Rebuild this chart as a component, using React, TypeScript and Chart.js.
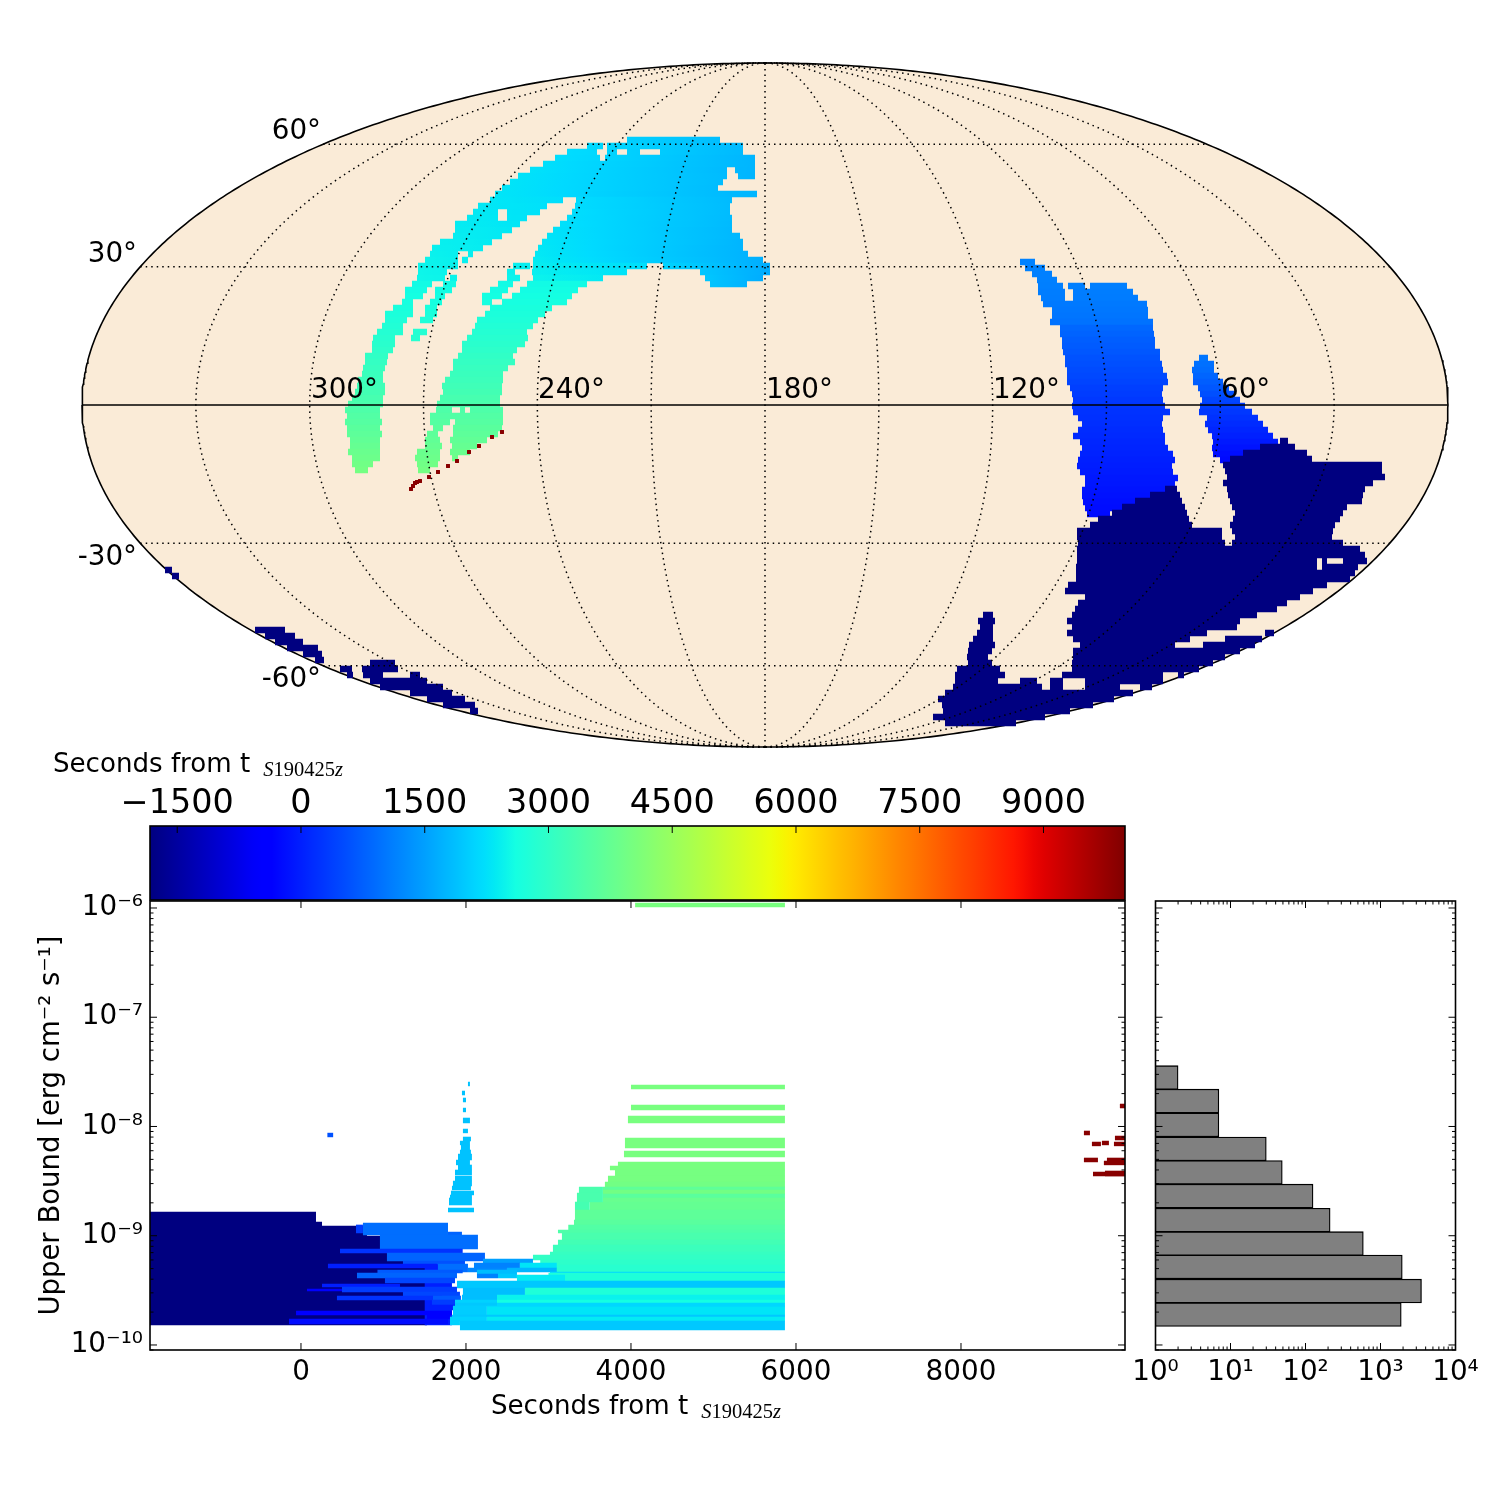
import React, { useEffect, useRef } from "react";
import { Chart, registerables } from "chart.js";
Chart.register(...registerables);

/* ---------- colour scale limits (seconds from trigger) ---------- */
const T_MIN = -1830;
const T_MAX = 9988;
const colorbarTicks = [-1500, 0, 1500, 3000, 4500, 6000, 7500, 9000];
const timeTicks = [0, 2000, 4000, 6000, 8000];
const boundDecades = [-6, -7, -8, -9, -10];
const histCountDecades = [0, 1, 2, 3, 4];

/* ---------- histogram ---------- */
const histBinEdges = [1.49e-10, 2.42e-10, 4.02e-10, 6.67e-10, 1.08e-9, 1.79e-9, 2.98e-9, 4.83e-9, 8.02e-9, 1.33e-8, 2.2e-8, 3.58e-8];
const histCounts = [1890, 3520, 1950, 590, 213, 126, 49, 30, 7, 7, 2];

/* ---------- lower panel: [log10 bound a, log10 bound b, t start, t end, colour time] ---------- */
const navyBlock = [
  [-8.783, -8.874, -1830, 182, -1830], [-8.874, -8.911, -1830, 255, -1830], [-8.911, -9.002, -1830, 800, -1830],
  [-9.002, -9.085, -1830, 1000, -1830], [-9.085, -9.13, -1830, 1000, -1830], [-9.13, -9.203, -1830, 1060, -1830],
  [-9.203, -9.24, -1830, 1357, -1830], [-9.24, -9.817, -1830, 1527, -1830],
];
const blueStrips = [
  [-9.24, -9.817, 1500, 1830, 0],
  [-8.883, -8.993, 751, 1782, 925], [-8.901, -8.975, 667, 751, 345], [-8.966, -9.002, 1782, 1951, 810],
  [-8.993, -9.121, 957, 2145, 925], [-9.121, -9.158, 473, 1960, 230], [-9.158, -9.231, 1042, 2230, 810],
  [-9.231, -9.259, 1236, 1988, 580], [-9.259, -9.295, 327, 1648, 0], [-9.259, -9.332, 1660, 2024, 925],
  [-9.313, -9.341, 927, 1960, 695], [-9.341, -9.387, 679, 1891, 810], [-9.387, -9.432, 1018, 1867, 460],
  [-9.441, -9.469, 255, 1200, 0], [-9.469, -9.515, 497, 1891, 345], [-9.487, -9.505, 73, 497, -500],
  [-9.515, -9.551, 1236, 1927, 460], [-9.551, -9.588, 436, 1709, 230], [-9.551, -9.588, 1600, 1939, 695],
  [-9.588, -9.634, 1588, 1867, 345], [-9.634, -9.68, 1563, 1867, 0], [-9.689, -9.725, -60, 1830, -350],
  [-9.725, -9.762, 1527, 1806, -350], [-9.762, -9.808, -145, 1782, -230], [-8.06, -8.096, 320, 390, 580],
];
const spireStrips = [
  [-7.593, -7.629, 2024, 2048], [-7.675, -7.712, 1951, 1988], [-7.739, -7.776, 1963, 2000], [-7.831, -7.867, 1963, 2000],
  [-7.922, -7.968, 1963, 2048], [-8.023, -8.059, 1963, 2024], [-8.096, -8.133, 1963, 2060], [-8.133, -8.169, 1927, 2048],
  [-8.169, -8.215, 1939, 2048], [-8.215, -8.252, 1927, 2060], [-8.252, -8.307, 1903, 2072], [-8.307, -8.352, 1879, 2048],
  [-8.352, -8.398, 1903, 2072], [-8.398, -8.444, 1867, 2072], [-8.453, -8.499, 1867, 2072], [-8.499, -8.545, 1842, 2072],
  [-8.545, -8.581, 1830, 2060], [-8.59, -8.627, 1818, 2097], [-8.627, -8.654, 1806, 2072], [-8.654, -8.719, 1794, 2072],
  [-8.746, -8.783, 1782, 2097],
];
const greenStrips = [
  [-5.954, -5.99, 4050, 5866, 4032], [-7.62, -7.657, 4000, 5866, 4032], [-7.803, -7.849, 4000, 5866, 4032],
  [-7.904, -7.968, 3963, 5866, 4032], [-8.105, -8.197, 3927, 5866, 4032], [-8.224, -8.279, 3915, 5866, 4032],
  [-8.325, -8.362, 3842, 5866, 4032], [-8.362, -8.398, 3745, 5866, 4032], [-8.398, -8.453, 3806, 5866, 4000],
  [-8.453, -8.508, 3721, 5866, 4000], [-8.508, -8.554, 3684, 5866, 3950], [-8.554, -8.581, 3660, 5866, 3650],
  [-8.581, -8.618, 3660, 5866, 3950], [-8.618, -8.654, 3660, 5866, 3600], [-8.654, -8.691, 3660, 5866, 3800],
  [-8.691, -8.764, 3500, 5866, 3750], [-8.554, -8.609, 3369, 3660, 3350], [-8.609, -8.691, 3345, 3660, 3350],
  [-8.691, -8.764, 3321, 3500, 3300], [-8.764, -8.856, 3321, 5866, 3650], [-8.856, -8.902, 3309, 5866, 3580],
  [-8.902, -8.947, 3240, 5866, 3480], [-8.947, -8.975, 3115, 5866, 3430], [-8.975, -9.039, 3163, 5866, 3350],
  [-9.039, -9.085, 3115, 5866, 3250], [-9.085, -9.149, 3054, 5866, 3150], [-9.149, -9.176, 3018, 5866, 3080],
  [-9.176, -9.222, 2812, 5866, 3020], [-9.222, -9.268, 2900, 5866, 2950], [-9.268, -9.332, 3018, 5866, 2880],
];
const cyanStrips = [
  [-9.213, -9.249, 2206, 2812, 1500], [-9.249, -9.295, 2097, 2654, 1155], [-9.249, -9.295, 2654, 3100, 2300],
  [-9.295, -9.332, 2024, 2497, 1200], [-9.295, -9.332, 2497, 3100, 1750], [-9.313, -9.35, 2133, 2618, 1850],
  [-9.332, -9.341, 3018, 5866, 2140], [-9.341, -9.414, 3000, 5866, 2740], [-9.35, -9.387, 2133, 2388, 1155],
  [-9.35, -9.387, 2388, 2618, 1967], [-9.359, -9.414, 2618, 3200, 2367], [-9.414, -9.478, 1891, 5866, 1967],
  [-9.478, -9.542, 1963, 2715, 1850], [-9.478, -9.542, 2715, 5866, 2740], [-9.542, -9.588, 1951, 2376, 1850],
  [-9.542, -9.588, 2376, 5866, 2450], [-9.588, -9.616, 1867, 2376, 2082], [-9.588, -9.616, 2376, 5866, 2600],
  [-9.616, -9.643, 1867, 2376, 1967], [-9.616, -9.643, 2376, 5866, 2140], [-9.643, -9.725, 1842, 2254, 2023],
  [-9.643, -9.652, 2254, 5866, 2140], [-9.652, -9.725, 2254, 5866, 2306], [-9.725, -9.744, 1830, 5866, 1967],
  [-9.744, -9.78, 1806, 2254, 2082], [-9.744, -9.78, 2254, 5866, 2367], [-9.78, -9.817, 1806, 1927, 2082],
  [-9.78, -9.863, 1927, 5866, 1967],
];
const redStrips = [
  [-7.794, -7.831, 9926, 9988], [-8.041, -8.078, 9490, 9563], [-8.087, -8.124, 9866, 9988], [-8.142, -8.178, 9587, 9696],
  [-8.133, -8.169, 9708, 9793], [-8.142, -8.178, 9854, 9988], [-8.288, -8.325, 9490, 9660], [-8.288, -8.325, 9769, 9988],
  [-8.316, -8.352, 9732, 9988], [-8.416, -8.453, 9600, 9988], [-8.407, -8.453, 9745, 9988],
];

/* ---------- sky map, Mollweide plane coordinates ---------- */
// [plane y, plane x start, plane x end, colour time at start, colour time at end]
const skyUpperBlock = [
  [265, -138, -45, 2050, 1850], [259, -178, -162, 2180, 2150], [259, -158, -22, 2140, 1800], [253, -198, -168, 2200, 2150],
  [253, -158, -148, 2100, 2100], [253, -138, -125, 2060, 2030], [253, -105, -22, 2000, 1800], [247, -210, -165, 2220, 2130],
  [247, -160, -10, 2120, 1750], [241, -222, -10, 2240, 1750], [235, -235, -38, 2260, 1800], [235, -30, -10, 1780, 1750],
  [229, -247, -38, 2280, 1810], [229, -27, -10, 1780, 1740], [223, -255, -42, 2290, 1820], [217, -263, -47, 2300, 1830],
  [211, -270, -8, 2310, 1740], [205, -275, -202, 2320, 2220], [205, -189, -33, 2200, 1810],
  [199, -287, -218, 2340, 2250], [199, -190, -35, 2200, 1820], [193, -292, -267, 2350, 2320], [193, -258, -225, 2300, 2270],
  [193, -193, -35, 2220, 1820], [187, -298, -267, 2360, 2330], [187, -258, -238, 2310, 2290], [187, -198, -33, 2230, 1810],
  [181, -310, -245, 2380, 2310], [181, -205, -33, 2250, 1800], [175, -310, -253, 2390, 2340], [175, -212, -33, 2270, 1790],
  [169, -312, -263, 2400, 2350], [169, -218, -25, 2290, 1770], [163, -325, -273, 2420, 2370], [163, -223, -22, 2310, 1750],
  [157, -333, -282, 2430, 2390], [157, -227, -22, 2330, 1740], [151, -335, -307, 2450, 2410], [151, -297, -292, 2400, 2400],
  [151, -230, -17, 2350, 1720], [145, -340, -307, 2470, 2430], [145, -303, -297, 2420, 2420], [145, -232, -2, 2380, 1680],
  [139, -347, -307, 2480, 2440], [139, -252, -235, 2420, 2400],
  [139, -232, -118, 2400, 2220], [139, -102, 5, 2100, 1640], [133, -347, -318, 2500, 2460], [133, -258, -250, 2440, 2430],
  [133, -233, -138, 2420, 2280], [133, -65, 5, 1950, 1630], [127, -348, -320, 2510, 2480], [127, -315, -308, 2470, 2470],
  [127, -258, -245, 2470, 2460], [127, -232, -162, 2460, 2350], [127, -60, -2, 1950, 1650], [121, -55, -18, 1920, 1720],
];
// [plane y, colour time, x0, x1, x0, x1, ...]
const skyArmRows = [
  [121, 2560, -353, -333, -322, -309, -267, -252, -238, -178], [115, 2580, -360, -338, -330, -313, -275, -257, -245, -187],
  [109, 2600, -360, -342, -330, -320, -283, -263, -253, -193], [103, 2630, -363, -352, -335, -323, -283, -273, -263, -198],
  [97, 2670, -372, -352, -340, -328, -275, -213], [91, 2700, -380, -352, -340, -328, -280, -220],
  [85, 2740, -380, -358, -345, -332, -288, -227], [79, 2780, -383, -362, -290, -232],
  [73, 2820, -388, -362, -352, -338, -293, -238], [67, 2860, -392, -370, -354, -345, -298, -237],
  [61, 2900, -393, -370, -303, -240], [55, 2950, -393, -372, -303, -248], [49, 3000, -400, -377, -307, -252],
  [43, 3050, -400, -378, -312, -250], [37, 3090, -402, -380, -312, -257], [31, 3130, -403, -382, -315, -262],
  [25, 3170, -407, -382, -320, -262], [19, 3210, -408, -380, -323, -263], [13, 3260, -410, -380, -322, -263],
  [7, 3320, -413, -382, -325, -265], [1, 3370, -417, -382, -328, -265],
  [-5, 3420, -420, -385, -329, -313, -305, -300, -295, -262], [-11, 3480, -418, -385, -335, -262],
  [-17, 3530, -420, -383, -335, -315, -310, -262], [-23, 3590, -418, -385, -332, -322, -312, -263],
  [-29, 3640, -418, -383, -338, -327, -312, -267], [-35, 3700, -415, -385, -340, -325, -315, -278],
  [-41, 3760, -415, -385, -340, -323, -313, -288], [-47, 3810, -417, -385, -348, -325, -315, -295],
  [-53, 3860, -413, -385, -350, -325, -313, -307], [-59, 3920, -413, -392, -348, -327], [-65, 3970, -410, -397, -347, -335],
];
// dark-red pointings along the southern edge of the arc: [plane x, plane y]
const skyLatePoints = [
  [-263, -27], [-273, -32], [-286, -41], [-296, -47], [-308, -56], [-317, -61], [-327, -67], [-336, -72], [-345, -76],
  [-348, -77], [-350, -78], [-352, -81], [-354, -84],
];
const skyBlueRows = [
  [143, 1150, 255, 270], [137, 1140, 260, 280], [131, 1135, 267, 287], [125, 1130, 272, 292], [119, 1120, 273, 298, 303, 320, 325, 362],
  [113, 1100, 273, 300, 308, 368], [107, 1080, 276, 300, 308, 373], [101, 1050, 278, 382], [95, 1025, 287, 383],
  [89, 1000, 287, 383], [83, 970, 285, 388], [77, 840, 295, 388], [71, 800, 295, 389], [65, 740, 297, 390],
  [59, 700, 297, 390], [53, 650, 298, 395], [47, 600, 300, 395], [41, 560, 300, 397], [35, 520, 302, 398],
  [29, 480, 302, 402], [23, 430, 302, 403], [17, 380, 305, 398], [11, 340, 307, 397], [5, 300, 308, 398],
  [-1, 260, 307, 400], [-7, 230, 308, 405], [-13, 200, 313, 398], [-19, 175, 317, 397], [-25, 150, 313, 398],
  [-31, 120, 308, 400], [-37, 90, 315, 400], [-43, 65, 317, 403], [-49, 40, 315, 408], [-55, 10, 313, 410],
  [-61, -20, 312, 407], [-67, -45, 315, 408], [-73, -70, 320, 413], [-79, -100, 320, 410], [-85, -130, 317, 402],
  [-91, -160, 317, 385], [-97, -190, 318, 372], [-103, -215, 320, 358], [-109, -240, 322, 345],
  [47, 1000, 434, 443], [41, 950, 429, 449], [35, 900, 427, 449], [29, 820, 428, 453], [23, 740, 428, 458],
  [17, 660, 433, 464], [11, 560, 435, 470], [5, 450, 437, 475], [-1, 350, 435, 480], [-7, 280, 434, 487],
  [-13, 220, 442, 493], [-19, 150, 440, 498], [-25, 80, 443, 503], [-31, 20, 447, 508], [-37, -60, 448, 513],
  [-43, -130, 447, 508], [-49, -200, 448, 478], [-55, -250, 455, 465],
];
// [plane y, x0, x1, x0, x1, ...]; all of these sit at the start of the colour scale
const skyEarlyRows = [
  [-36, 515, 523], [-42, 495, 530], [-48, 478, 542], [-54, 465, 547], [-60, 458, 617], [-66, 460, 617], [-72, 462, 620],
  [-78, 458, 608], [-84, 400, 412, 462, 600], [-90, 385, 415, 463, 598], [-96, 370, 417, 465, 597], [-102, 357, 420, 467, 582],
  [-108, 347, 422, 470, 578], [-114, 333, 424, 468, 575], [-120, 325, 427, 465, 570], [-126, 312, 457, 467, 568],
  [-132, 312, 457, 470, 567], [-138, 313, 460, 467, 578], [-144, 312, 595], [-150, 312, 600], [-156, 312, 552, 557, 562, 578, 602],
  [-162, 311, 552, 557, 593], [-168, 311, 590], [-174, 311, 585], [-180, 303, 562], [-186, 300, 548], [-192, 320, 535],
  [-198, 313, 522], [-204, 310, 512], [-210, 218, 228, 307, 492], [-216, 213, 230, 302, 475], [-222, 215, 228, 307, 472],
  [-228, 212, 228, 302, 442, 500, 509], [-234, 208, 228, 308, 425, 460, 497], [-240, 204, 230, 315, 410, 438, 490],
  [-246, 203, 227, 308, 475], [-252, 202, 223, 308, 460], [-258, 203, 227, 307, 448], [-264, 192, 235, 307, 434],
  [-270, 190, 240, 297, 398, 413, 419], [-276, 190, 233, 255, 272, 285, 298, 320, 398],
  [-282, 188, 277, 285, 298, 320, 355, 375, 387], [-288, 180, 368], [-294, 173, 349], [-300, 177, 328], [-306, 178, 305],
  [-312, 168, 280], [-318, 180, 251],
  [-165, -600, -593], [-171, -593, -586], [-225, -510, -480], [-231, -500, -470], [-237, -490, -462], [-243, -478, -447],
  [-249, -462, -443], [-255, -450, -441], [-258, -395, -370], [-264, -425, -413, -403, -367], [-270, -418, -412, -402, -382, -355, -345],
  [-276, -395, -338], [-282, -385, -322], [-288, -355, -313], [-294, -338, -300], [-300, -322, -290], [-306, -295, -287],
];
const meridianLongitudes = [-150, -120, -90, -60, -30, 0, 30, 60, 90, 120, 150];
const parallelLatitudes = [-60, -30, 30, 60];
// [text, plane x, plane y, align]
const skyLabels = [
  ["60°", -444, 266, "right"], ["30°", -628, 143, "right"], ["-30°", -628, -160, "right"], ["-60°", -444, -282, "right"],
  ["300°", -454, 7, "left"], ["240°", -227, 7, "left"], ["180°", 1, 7, "left"], ["120°", 228, 7, "left"], ["60°", 456, 7, "left"],
];

/* ---------- helpers ---------- */
const FONT = '"DejaVu Sans"';
const SKY_A = 683;
const SKY_B = 342;
const PX_PER_DECADE = 109.25;
const LOG_MIN = -10.046;
const LOG_MAX = -5.936;

function jetRGB(t: number) {
  const n = Math.min(1, Math.max(0, (t - T_MIN) / (T_MAX - T_MIN)));
  const lerp = (pts: number[][]) => {
    for (let i = 1; i < pts.length; i++) {
      if (n <= pts[i][0]) {
        const [a, va] = pts[i - 1];
        const [b, vb] = pts[i];
        return va + ((vb - va) * (n - a)) / (b - a);
      }
    }
    return pts[pts.length - 1][1];
  };
  const r = lerp([[0, 0], [0.35, 0], [0.66, 1], [0.89, 1], [1, 0.5]]);
  const g = lerp([[0, 0], [0.125, 0], [0.375, 1], [0.64, 1], [0.91, 0], [1, 0]]);
  const b = lerp([[0, 0.5], [0.11, 1], [0.34, 1], [0.65, 0], [1, 0]]);
  return `rgb(${Math.round(r * 255)},${Math.round(g * 255)},${Math.round(b * 255)})`;
}

function gradientColor(x0: number, x1: number, tA: number, tB: number, stops = 8) {
  if (tA === tB) return jetRGB(tA);
  return (c: any) => {
    const sc = c.chart.scales.x;
    if (!c.chart.chartArea) return jetRGB(tA);
    const g = c.chart.ctx.createLinearGradient(sc.getPixelForValue(x0), 0, sc.getPixelForValue(x1), 0);
    for (let i = 0; i <= stops; i++) g.addColorStop(i / stops, jetRGB(tA + ((tB - tA) * i) / stops));
    return g;
  };
}

function segment(x0: number, x1: number, y: number, tA: number, tB: number, width: number, stops = 8) {
  return {
    data: [{ x: x0, y }, { x: x1, y }],
    borderColor: gradientColor(x0, x1, tA, tB, stops),
    borderWidth: width,
    borderCapStyle: "butt",
    pointRadius: 0,
    showLine: true,
    fill: false,
    tension: 0,
  };
}

function withDrawOrder(layers: any[]) {
  return layers.map((d, i) => ({ ...d, order: layers.length - i }));
}

function strip(s: number[], tc?: number) {
  const mid = (s[0] + s[1]) / 2;
  const width = Math.abs(s[1] - s[0]) * PX_PER_DECADE + 0.5;
  const c = tc ?? s[4];
  return segment(s[2], s[3], Math.pow(10, mid), c, c, width);
}

const SUP: Record<string, string> = { "-": "⁻", "0": "⁰", "1": "¹", "2": "²", "3": "³", "4": "⁴", "5": "⁵", "6": "⁶", "7": "⁷", "8": "⁸", "9": "⁹" };
const pow10Label = (v: number) => "10" + String(Math.round(Math.log10(v))).split("").map((ch) => SUP[ch]).join("");

function logMinors(decades: number[]) {
  const out: number[] = [];
  const lo = Math.min(...decades);
  const hi = Math.max(...decades);
  for (let e = lo - 1; e <= hi; e++) for (let m = 2; m < 10; m++) out.push(m * Math.pow(10, e));
  return out;
}

const framePlugin = {
  id: "frame",
  afterDraw(chart: any, _a: any, o: any) {
    const { ctx, chartArea: a, scales } = chart;
    ctx.save();
    ctx.strokeStyle = "#000";
    const tick = (scale: any, v: number, len: number, sides: string) => {
      const p = scale.getPixelForValue(v);
      ctx.beginPath();
      if (scale.isHorizontal()) {
        if (p < a.left || p > a.right) return;
        if (sides.includes("b")) { ctx.moveTo(p, a.bottom); ctx.lineTo(p, a.bottom - len); }
        if (sides.includes("t")) { ctx.moveTo(p, a.top); ctx.lineTo(p, a.top + len); }
      } else {
        if (p < a.top || p > a.bottom) return;
        ctx.moveTo(a.left, p); ctx.lineTo(a.left + len, p);
        ctx.moveTo(a.right, p); ctx.lineTo(a.right - len, p);
      }
      ctx.stroke();
    };
    ctx.lineWidth = 1;
    const sides = o.xSides || "bt";
    (o.xMajor || []).forEach((v: number) => tick(scales.x, v, 7, sides));
    (o.xMinor || []).forEach((v: number) => tick(scales.x, v, 3.5, sides));
    (o.yMajor || []).forEach((v: number) => tick(scales.y, v, 7, ""));
    (o.yMinor || []).forEach((v: number) => tick(scales.y, v, 3.5, ""));
    ctx.lineWidth = 1.6;
    ctx.strokeRect(a.left, a.top, a.right - a.left, a.bottom - a.top);
    ctx.restore();
  },
};

const timeTitlePlugin = {
  id: "timeTitle",
  afterDraw(chart: any, _a: any, o: any) {
    const ctx = chart.ctx;
    ctx.save();
    ctx.fillStyle = "#000";
    ctx.textAlign = "left";
    ctx.textBaseline = "alphabetic";
    ctx.font = `26.1px ${FONT}`;
    ctx.fillText("Seconds from t", o.x, o.y);
    let x = o.x + ctx.measureText("Seconds from t").width + 13;
    const y = o.y + 4;
    const part = (s: string, italic: boolean) => {
      ctx.font = `${italic ? "italic " : ""}20.5px "Liberation Serif"`;
      ctx.fillText(s, x, y);
      x += ctx.measureText(s).width;
    };
    part("S", true);
    part("190425", false);
    part("z", true);
    ctx.restore();
  },
};

const skyLabelPlugin = {
  id: "skyLabelsDraw",
  afterDatasetsDraw(chart: any) {
    const { ctx, scales } = chart;
    ctx.save();
    ctx.fillStyle = "#000";
    ctx.font = `27.8px ${FONT}`;
    ctx.textBaseline = "alphabetic";
    skyLabels.forEach(([t, u, v, al]: any) => {
      ctx.textAlign = al;
      ctx.fillText(t, scales.x.getPixelForValue(u), scales.y.getPixelForValue(v));
    });
    ctx.restore();
  },
};

function base(extra: any) {
  return {
    responsive: false,
    animation: false,
    devicePixelRatio: 1,
    events: [],
    ...extra,
  };
}
const hiddenPlugins = { legend: { display: false }, tooltip: { enabled: false } };

function skyDatasets() {
  const layers: any[] = [];
  const upper: any[] = [];
  const lower: any[] = [];
  for (let i = 0; i <= 360; i++) {
    const a = Math.PI - (Math.PI * i) / 360;
    upper.push({ x: SKY_A * Math.cos(a), y: SKY_B * Math.sin(a) });
    lower.push({ x: SKY_A * Math.cos(a), y: -SKY_B * Math.sin(a) });
  }
  const arc = { borderColor: "#000", borderWidth: 1.6, pointRadius: 0, showLine: true };
  layers.push({ ...arc, data: upper, fill: "+1", backgroundColor: "#faebd7" });
  layers.push({ ...arc, data: lower, fill: false });

  const W = 6.5;
  skyBlueRows.forEach((r) => {
    for (let i = 2; i < r.length; i += 2) layers.push(segment(r[i], r[i + 1], r[0], r[1], r[1], W));
  });
  skyEarlyRows.forEach((r) => {
    for (let i = 1; i < r.length; i += 2) layers.push(segment(r[i], r[i + 1], r[0], T_MIN, T_MIN, W));
  });
  skyUpperBlock.forEach((r) => layers.push(segment(r[1], r[2], r[0], r[3], r[4], W)));
  skyArmRows.forEach((r) => {
    for (let i = 2; i < r.length; i += 2) layers.push(segment(r[i], r[i + 1], r[0], r[1], r[1], W));
  });
  layers.push({
    data: skyLatePoints.map(([x, y]) => ({ x, y })),
    showLine: false,
    pointStyle: "rect",
    pointRadius: 2.8,
    pointBorderWidth: 0,
    pointBackgroundColor: jetRGB(9900),
    pointBorderColor: jetRGB(9900),
  });

  const dotted = { borderColor: "#000", borderWidth: 1.5, borderDash: [1.5, 4], pointRadius: 0, showLine: true, fill: false };
  meridianLongitudes.forEach((lon) => {
    const pts: any[] = [];
    for (let i = 0; i <= 120; i++) {
      const th = -Math.PI / 2 + (Math.PI * i) / 120;
      pts.push({ x: (SKY_A * lon * Math.cos(th)) / 180, y: SKY_B * Math.sin(th) });
    }
    layers.push({ ...dotted, data: pts });
  });
  parallelLatitudes.forEach((lat) => {
    const target = Math.PI * Math.sin((lat * Math.PI) / 180);
    let th = (lat * Math.PI) / 180;
    for (let k = 0; k < 30; k++) th -= (2 * th + Math.sin(2 * th) - target) / (2 + 2 * Math.cos(2 * th));
    const ux = SKY_A * Math.cos(th);
    layers.push({ ...dotted, data: [{ x: -ux, y: SKY_B * Math.sin(th) }, { x: ux, y: SKY_B * Math.sin(th) }] });
  });
  layers.push({ borderColor: "#000", borderWidth: 1.5, pointRadius: 0, showLine: true, fill: false, data: [{ x: -SKY_A, y: 0 }, { x: SKY_A, y: 0 }] });
  return withDrawOrder(layers);
}

function panelDatasets() {
  const layers: any[] = [];
  navyBlock.forEach((s) => layers.push(strip(s)));
  blueStrips.forEach((s) => layers.push(strip(s)));
  spireStrips.forEach((s) => layers.push(strip(s, 1900)));
  greenStrips.forEach((s) => layers.push(strip(s)));
  cyanStrips.forEach((s) => layers.push(strip(s)));
  redStrips.forEach((s) => layers.push(strip(s, 9900)));
  return withDrawOrder(layers);
}

const tickFont = { family: "DejaVu Sans", size: 27.8 };
const noOverhang = (s: any) => {
  s.paddingLeft = 0;
  s.paddingRight = 0;
  s.paddingTop = 0;
  s.paddingBottom = 0;
};

export default function App() {
  const skyRef = useRef<HTMLCanvasElement>(null);
  const barRef = useRef<HTMLCanvasElement>(null);
  const mainRef = useRef<HTMLCanvasElement>(null);
  const histRef = useRef<HTMLCanvasElement>(null);

  useEffect(() => {
    const charts: Chart[] = [];
    const hiddenAxis = (min: number, max: number) => ({ type: "linear", display: false, min, max });

    charts.push(
      new Chart(skyRef.current as any, {
        type: "scatter",
        data: { datasets: skyDatasets() },
        options: base({
          layout: { padding: { left: 75, right: 45, top: 56, bottom: 16 } },
          scales: { x: hiddenAxis(-690, 690), y: hiddenAxis(-349, 349) },
          plugins: hiddenPlugins,
        }),
        plugins: [skyLabelPlugin],
      } as any)
    );

    charts.push(
      new Chart(barRef.current as any, {
        type: "scatter",
        data: { datasets: [segment(T_MIN, T_MAX, 0.5, T_MIN, T_MAX, 74, 96)] },
        options: base({
          layout: { padding: { left: 150, right: 375, top: 0, bottom: 10 } },
          scales: {
            x: {
              type: "linear",
              position: "top",
              min: T_MIN,
              max: T_MAX,
              grid: { display: false, drawTicks: false },
              border: { display: false },
              afterBuildTicks: (s: any) => { s.ticks = colorbarTicks.map((value) => ({ value })); },
              afterFit: (s: any) => { s.height = 86; noOverhang(s); },
              ticks: {
                autoSkip: false, maxRotation: 0, minRotation: 0, color: "#000", padding: 2,
                font: { family: "DejaVu Sans", size: 33.4 },
                callback: (v: any) => String(v).replace("-", "\u2212"),
              },
            },
            y: hiddenAxis(0, 1),
          },
          plugins: { ...hiddenPlugins, frame: { xMajor: colorbarTicks, xSides: "t" }, timeTitle: { x: 53, y: 32 } },
        }),
        plugins: [framePlugin, timeTitlePlugin],
      } as any)
    );

    charts.push(
      new Chart(mainRef.current as any, {
        type: "scatter",
        data: { datasets: panelDatasets() },
        options: base({
          layout: { padding: { left: 30, right: 25, top: 21, bottom: 40 } },
          scales: {
            x: {
              type: "linear",
              min: T_MIN,
              max: T_MAX,
              grid: { display: false, drawTicks: false },
              border: { display: false },
              afterBuildTicks: (s: any) => { s.ticks = timeTicks.map((value) => ({ value })); },
              afterFit: (s: any) => { s.height = 50; noOverhang(s); },
              ticks: { autoSkip: false, maxRotation: 0, minRotation: 0, color: "#000", padding: 6, font: tickFont, callback: (v: any) => String(v) },
            },
            y: {
              type: "logarithmic",
              min: Math.pow(10, LOG_MIN),
              max: Math.pow(10, LOG_MAX),
              grid: { display: false, drawTicks: false },
              border: { display: false },
              afterBuildTicks: (s: any) => { s.ticks = boundDecades.map((d) => ({ value: Math.pow(10, d) })); },
              afterFit: (s: any) => { s.width = 120; noOverhang(s); },
              title: {
                display: true,
                text: "Upper Bound [erg cm⁻² s⁻¹]",
                color: "#000",
                font: { family: "DejaVu Sans", size: 27.5 },
                padding: { top: 5, bottom: 0 },
              },
              ticks: { autoSkip: false, color: "#000", padding: 7, font: tickFont, callback: (v: any) => pow10Label(v) },
            },
          },
          plugins: {
            ...hiddenPlugins,
            frame: { xMajor: timeTicks, yMajor: boundDecades.map((d) => Math.pow(10, d)), yMinor: logMinors(boundDecades) },
            timeTitle: { x: 491, y: 1414 - 880 },
          },
        }),
        plugins: [framePlugin, timeTitlePlugin],
      } as any)
    );

    const centers = histCounts.map((_, i) => Math.sqrt(histBinEdges[i] * histBinEdges[i + 1]));
    charts.push(
      new Chart(histRef.current as any, {
        type: "bar",
        data: {
          datasets: [
            {
              data: histCounts.map((x, i) => ({ x, y: centers[i] })),
              backgroundColor: "#808080",
              borderColor: "#000",
              borderWidth: 1.3,
              barThickness: 23.7,
            },
          ],
        },
        options: base({
          indexAxis: "y",
          layout: { padding: { left: 55.5, right: 44.5, top: 21, bottom: 40 } },
          scales: {
            x: {
              type: "logarithmic",
              min: 1,
              max: 10000,
              grid: { display: false, drawTicks: false },
              border: { display: false },
              afterBuildTicks: (s: any) => { s.ticks = histCountDecades.map((d) => ({ value: Math.pow(10, d) })); },
              afterFit: (s: any) => { s.height = 50; noOverhang(s); },
              ticks: { autoSkip: false, maxRotation: 0, minRotation: 0, color: "#000", padding: 6, font: tickFont, callback: (v: any) => pow10Label(v) },
            },
            y: { type: "logarithmic", display: false, min: Math.pow(10, LOG_MIN), max: Math.pow(10, LOG_MAX) },
          },
          plugins: {
            ...hiddenPlugins,
            frame: {
              xMajor: histCountDecades.map((d) => Math.pow(10, d)),
              xMinor: logMinors(histCountDecades),
              yMajor: boundDecades.map((d) => Math.pow(10, d)),
              yMinor: logMinors(boundDecades),
            },
          },
        }),
        plugins: [framePlugin],
      } as any)
    );

    return () => charts.forEach((c) => c.destroy());
  }, []);

  const abs = (left: number, top: number): React.CSSProperties => ({ position: "absolute", left, top, display: "block" });
  return (
    <div style={{ position: "absolute", left: 0, top: 0, width: 1500, height: 1500, background: "#fff", overflow: "hidden" }}>
      <canvas ref={skyRef} width={1500} height={770} style={abs(0, 0)} />
      <canvas ref={mainRef} width={1150} height={560} style={abs(0, 880)} />
      <canvas ref={barRef} width={1500} height={170} style={abs(0, 740)} />
      <canvas ref={histRef} width={400} height={560} style={abs(1100, 880)} />
    </div>
  );
}
